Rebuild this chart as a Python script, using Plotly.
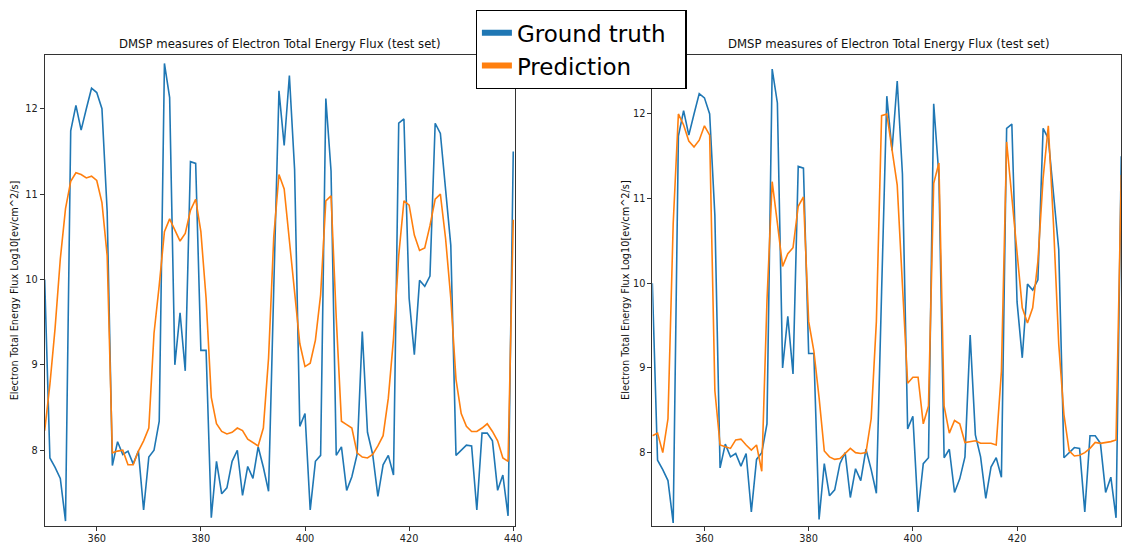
import plotly.graph_objects as go

x_vals = list(range(350, 441))

ground_truth = [
    10.0, 7.91, 7.80, 7.67, 7.17, 11.74, 12.04, 11.75, 12.0, 12.24,
    12.19, 12.0, 10.8, 7.82, 8.10, 7.95, 7.99, 7.84, 7.99, 7.30,
    7.92, 8.0, 8.34, 12.53, 12.13, 9.0, 9.61, 8.93, 11.38, 11.36,
    9.17, 9.17, 7.21, 7.87, 7.49, 7.56, 7.87, 8.0, 7.47, 7.81,
    7.67, 8.04, 7.80, 7.52, 9.9, 12.21, 11.57, 12.39, 11.29, 8.28,
    8.43, 7.30, 7.87, 7.94, 12.12, 11.27, 7.94, 8.04, 7.53, 7.69,
    7.95, 9.39, 8.21, 7.95, 7.46, 7.83, 7.94, 7.71, 11.83, 11.88,
    9.78, 9.12, 9.99, 9.92, 10.04, 11.83, 11.71, 11.05, 10.40, 7.94,
    8.0, 8.06, 8.05, 7.30, 8.20, 8.20, 8.11, 7.53, 7.71, 7.23,
    11.5,
]

prediction_left = [
    8.23, 8.77, 9.43, 10.24, 10.83, 11.15, 11.25, 11.23, 11.19, 11.21,
    11.16, 10.90, 10.28, 7.97, 7.99, 8.0, 7.83, 7.83, 7.99, 8.11,
    8.26, 9.37, 9.93, 10.56, 10.71, 10.57, 10.45, 10.54, 10.81, 10.94,
    10.56, 9.78, 8.62, 8.31, 8.22, 8.19, 8.21, 8.26, 8.23, 8.13,
    8.09, 8.05, 8.26, 9.08, 10.5, 11.23, 11.06, 10.44, 9.82, 9.25,
    8.98, 9.02, 9.29, 9.82, 10.92, 10.98, 9.55, 8.34, 8.30, 8.26,
    7.97, 7.92, 7.91, 7.95, 8.05, 8.17, 8.61, 9.31, 10.28, 10.92,
    10.87, 10.52, 10.34, 10.37, 10.63, 10.94, 11.0, 10.48, 9.78, 8.83,
    8.43, 8.28, 8.22, 8.22, 8.26, 8.31, 8.22, 8.11, 7.91, 7.87,
    10.7,
]

prediction_right = [
    8.2, 8.23, 8.0, 8.4, 10.7, 12.0, 11.87, 11.68, 11.61, 11.69,
    11.86, 11.75, 8.73, 8.09, 8.07, 8.05, 8.15, 8.16, 8.09, 8.03,
    8.09, 7.78, 9.79, 11.2, 10.71, 10.2, 10.35, 10.42, 10.91, 11.02,
    9.55, 9.2, 8.65, 8.02, 7.95, 7.92, 7.93, 7.99, 8.05, 8.0,
    7.99, 8.0, 8.4, 9.55, 11.98, 12.0, 11.6, 11.16, 9.98, 8.82,
    8.89, 8.89, 8.34, 8.55, 11.18, 11.42, 8.55, 8.23, 8.38, 8.34,
    8.12, 8.13, 8.14, 8.11, 8.11, 8.11, 8.09, 8.96, 11.67, 11.0,
    10.38, 9.71, 9.53, 9.71, 10.26, 11.24, 11.86, 10.69, 9.28, 8.45,
    8.02, 7.96, 7.97, 8.0, 8.05, 8.12, 8.11, 8.12, 8.13, 8.15,
    11.28,
]

series_names = ["Ground truth", "Prediction"]
x_tick_vals = [360, 380, 400, 420, 440]
y_tick_vals = [8, 9, 10, 11, 12]
title_text = "DMSP measures of Electron Total Energy Flux (test set)"
ylabel_text = "Electron Total Energy Flux Log10[ev/cm^2/s]"

BLUE = "#1f77b4"
ORANGE = "#ff7f0e"
W, H = 1129, 544

fig = go.Figure()
for xa, ya, pred in [("x", "y", prediction_left), ("x2", "y2", prediction_right)]:
    fig.add_trace(go.Scatter(x=x_vals, y=ground_truth, mode="lines", xaxis=xa, yaxis=ya,
                             line=dict(color=BLUE, width=1.6), showlegend=False, hoverinfo="skip"))
    fig.add_trace(go.Scatter(x=x_vals, y=pred, mode="lines", xaxis=xa, yaxis=ya,
                             line=dict(color=ORANGE, width=1.6), showlegend=False, hoverinfo="skip"))

# legend entries (thick swatches); trailing no-break spaces widen the box like the original
for name, col in zip(series_names, [BLUE, ORANGE]):
    fig.add_trace(go.Scatter(x=[None], y=[None], mode="lines",
                             name=name + ("\u00a0\u00a0" if name == series_names[0] else ""),
                             line=dict(color=col, width=6), xaxis="x", yaxis="y"))

tick_font = dict(family="DejaVu Sans", size=9.75, color="#222")
common_x = dict(showgrid=False, zeroline=False, showline=True, linecolor="#333", linewidth=1,
                mirror=True, ticks="outside", ticklen=4, tickcolor="#333", tickvals=x_tick_vals,
                tickfont=tick_font, fixedrange=True)
common_y = dict(showgrid=False, zeroline=False, showline=True, linecolor="#333", linewidth=1,
                mirror=True, ticks="outside", ticklen=4, tickcolor="#333", tickvals=y_tick_vals,
                tickfont=tick_font, fixedrange=True)

y_dom = [(H - 528.7) / H, (H - 55) / H]
fig.update_layout(
    width=W, height=H,
    margin=dict(l=0, r=0, t=0, b=0),
    plot_bgcolor="white", paper_bgcolor="white",
    xaxis=dict(domain=[45 / W, 518.5 / W], range=[350, 440.3], anchor="y", **common_x),
    yaxis=dict(domain=y_dom, range=[7.115, 12.633], anchor="x", **common_y),
    xaxis2=dict(domain=[657 / W, 1.0], range=[350, 439.95], anchor="y2", **common_x),
    yaxis2=dict(domain=y_dom, range=[7.136, 12.70], anchor="x2", **common_y),
    showlegend=True,
    legend=dict(x=479 / W, y=(H - 10) / H, xanchor="left", yanchor="top",
                bgcolor="white", bordercolor="black", borderwidth=1.3,
                font=dict(family="DejaVu Sans", size=23, color="black"),
                itemwidth=30, tracegroupgap=0),
)

annotations = []
for cx in [281.5, 895]:
    annotations.append(dict(text=title_text, x=cx / W, y=(H - 44) / H, xref="paper", yref="paper",
                            showarrow=False, xanchor="center", yanchor="middle",
                            font=dict(family="DejaVu Sans", size=11.7, color="#111")))
for lx in [14, 630]:
    annotations.append(dict(text=ylabel_text, x=lx / W, y=(H - 292) / H, xref="paper", yref="paper",
                            showarrow=False, xanchor="center", yanchor="middle", textangle=-90,
                            font=dict(family="DejaVu Sans", size=9.75, color="#111")))
fig.update_layout(annotations=annotations)

post = """
var gd = document.getElementById('{plot_id}');
document.documentElement.style.margin='0';
document.documentElement.style.overflow='hidden';
document.body.style.margin='0';
document.body.style.overflow='hidden';
gd.style.overflow='hidden';
gd.style.lineHeight='0';
var sc = gd.querySelector('.svg-container');
if (sc) { sc.style.display='block'; }
if (gd.parentNode) { gd.parentNode.style.height='544px'; gd.parentNode.style.overflow='hidden'; }
"""

fig.write_html("out.html", config={"displayModeBar": False}, post_script=post)
